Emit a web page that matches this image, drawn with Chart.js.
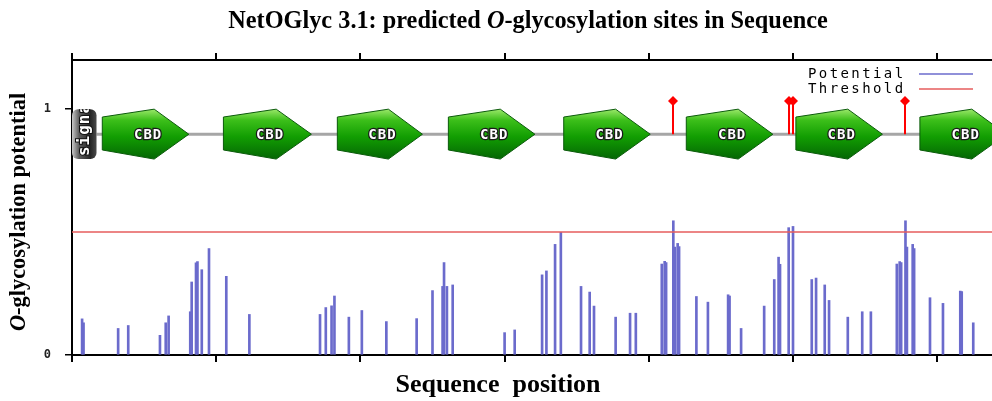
<!DOCTYPE html>
<html>
<head>
<meta charset="utf-8">
<script src="https://cdn.jsdelivr.net/npm/chart.js@4/dist/chart.umd.min.js"></script>
<style>
  body { margin: 0; background: #fff; }
  #wrap { width: 992px; height: 401px; position: relative; }
</style>
</head>
<body>
<div id="wrap"><canvas id="chart"></canvas></div>
<script>
// sequence positions (residues) and scale ticks
const seqLength = 638;
const xTicks = [0, 100, 200, 300, 400, 500, 600];
const yTicks = [0, 1];
const threshold = 0.5;

// predicted O-glycosylation potential per site
const sitePos = [7, 8, 32, 39, 61, 65, 67, 82, 83, 86, 87, 90, 95, 107, 123,
  172, 176, 180, 182, 192, 201, 218, 239, 250, 257, 258, 260, 264, 300, 307,
  326, 329, 335, 339, 353, 359, 362, 377, 387, 391, 409, 411, 412, 417, 418, 420, 421, 433, 441, 455, 456, 464,
  480, 487, 490, 491, 497, 500, 513, 516, 522, 525, 538, 548, 554, 572, 574, 575, 578, 579, 583, 584, 595, 604, 616, 617, 625];
const siteVal = [0.147, 0.131, 0.108, 0.120, 0.080, 0.131, 0.159, 0.176, 0.297, 0.375, 0.380, 0.347, 0.433, 0.320, 0.165,
  0.165, 0.193, 0.200, 0.240, 0.154, 0.181, 0.136, 0.148, 0.262, 0.279, 0.376, 0.279, 0.285, 0.091, 0.102,
  0.326, 0.342, 0.450, 0.499, 0.279, 0.256, 0.199, 0.154, 0.170, 0.170, 0.370, 0.381, 0.376, 0.546, 0.439, 0.454, 0.441, 0.238, 0.215, 0.245, 0.240, 0.108,
  0.199, 0.307, 0.398, 0.369, 0.518, 0.523, 0.307, 0.313, 0.285, 0.222, 0.154, 0.176, 0.176, 0.370, 0.380, 0.376, 0.546, 0.439, 0.450, 0.433, 0.233, 0.210, 0.260, 0.258, 0.131];

// domain track
const signalStart = 0, signalEnd = 17;
const cbdStart = [21, 105, 184, 261, 341, 426, 502, 588];
const cbdEnd = [81, 166, 243, 321, 401, 486, 562, 648];
const predicted = [417, 497, 500, 578];

const trackPlugin = {
  id: 'track',
  afterDatasetsDraw(chart) {
    const { ctx, chartArea: a, scales: { x, y } } = chart;
    ctx.save();
    ctx.beginPath();
    ctx.rect(a.left, 0, a.right - a.left, chart.height);
    ctx.clip();

    const yLine = y.getPixelForValue(0.898);
    ctx.strokeStyle = '#a6a6a6';
    ctx.lineWidth = 3;
    ctx.beginPath();
    ctx.moveTo(x.getPixelForValue(signalEnd), yLine);
    ctx.lineTo(a.right, yLine);
    ctx.stroke();

    // predicted sites (lollipops)
    predicted.forEach(p => {
      const px = Math.round(x.getPixelForValue(p));
      const top = y.getPixelForValue(1.033);
      ctx.strokeStyle = '#ff0000';
      ctx.lineWidth = 2;
      ctx.beginPath();
      ctx.moveTo(px, yLine);
      ctx.lineTo(px, top);
      ctx.stroke();
      ctx.fillStyle = '#ff0000';
      ctx.beginPath();
      ctx.moveTo(px, top - 5);
      ctx.lineTo(px + 5, top);
      ctx.lineTo(px, top + 5);
      ctx.lineTo(px - 5, top);
      ctx.closePath();
      ctx.fill();
    });

    // CBD domains
    const yTop = y.getPixelForValue(1.0), yBot = y.getPixelForValue(0.797);
    const yL1 = y.getPixelForValue(0.968), yL2 = y.getPixelForValue(0.834);
    cbdStart.forEach((s, i) => {
      const x0 = x.getPixelForValue(s), x1 = x.getPixelForValue(cbdEnd[i]);
      const xm = x0 + (x1 - x0) * 0.6;
      const g = ctx.createLinearGradient(0, yTop, 0, yBot);
      g.addColorStop(0, '#9be86a');
      g.addColorStop(0.22, '#3cbf1a');
      g.addColorStop(0.55, '#129e02');
      g.addColorStop(1, '#046604');
      ctx.fillStyle = g;
      ctx.beginPath();
      ctx.moveTo(x0, yL1);
      ctx.lineTo(xm, yTop);
      ctx.lineTo(x1, yLine);
      ctx.lineTo(xm, yBot);
      ctx.lineTo(x0, yL2);
      ctx.closePath();
      ctx.fill();
      ctx.strokeStyle = '#0a5a0a';
      ctx.lineWidth = 1;
      ctx.stroke();

      ctx.font = 'bold 14px "DejaVu Sans Mono"';
      ctx.letterSpacing = '1px';
      ctx.textAlign = 'center';
      ctx.textBaseline = 'middle';
      const tx = x0 + (x1 - x0) * 0.53;
      ctx.lineWidth = 2.5;
      ctx.strokeStyle = '#1a1a1a';
      ctx.strokeText('CBD', tx, yLine + 1);
      ctx.fillStyle = '#ffffff';
      ctx.fillText('CBD', tx, yLine + 1);
      ctx.letterSpacing = '0px';
    });

    // signal peptide box
    const sx0 = x.getPixelForValue(signalStart), sx1 = x.getPixelForValue(signalEnd);
    const sy0 = y.getPixelForValue(1.0), sy1 = y.getPixelForValue(0.797);
    const sg = ctx.createLinearGradient(sx0, 0, sx1, 0);
    sg.addColorStop(0, '#c8c8c8');
    sg.addColorStop(0.3, '#5a5a5a');
    sg.addColorStop(0.75, '#262626');
    sg.addColorStop(1, '#4a4a4a');
    ctx.fillStyle = sg;
    ctx.beginPath();
    ctx.roundRect(sx0, sy0, sx1 - sx0, sy1 - sy0, 6);
    ctx.fill();
    ctx.save();
    ctx.clip();
    ctx.translate((sx0 + sx1) / 2 + 1, sy1 - 3);
    ctx.rotate(-Math.PI / 2);
    ctx.font = 'bold 16px "DejaVu Sans Mono"';
    ctx.letterSpacing = '1px';
    ctx.textAlign = 'left';
    ctx.textBaseline = 'middle';
    ctx.lineWidth = 2;
    ctx.strokeStyle = '#111';
    ctx.strokeText('signal', 0, 0);
    ctx.fillStyle = '#fff';
    ctx.fillText('signal', 0, 0);
    ctx.restore();

    ctx.restore();
  },
  afterDraw(chart) {
    const { ctx } = chart;
    ctx.save();
    // legend
    ctx.font = '14px "DejaVu Sans Mono"';
    ctx.letterSpacing = '2.4px';
    ctx.fillStyle = '#000';
    ctx.textAlign = 'left';
    ctx.textBaseline = 'middle';
    ctx.fillText('Potential', 808, 74);
    ctx.fillText('Threshold', 808, 89);
    ctx.letterSpacing = '0px';
    ctx.lineWidth = 1.5;
    ctx.strokeStyle = '#6b6bcc';
    ctx.beginPath(); ctx.moveTo(919, 74); ctx.lineTo(973, 74); ctx.stroke();
    ctx.strokeStyle = '#e65c5c';
    ctx.beginPath(); ctx.moveTo(919, 89); ctx.lineTo(973, 89); ctx.stroke();

    // titles, with italic O
    const drawMixed = (parts, cx, cy, size) => {
      const fonts = parts.map(p => (p[1] ? 'italic ' : '') + 'bold ' + size + 'px "Liberation Serif"');
      let total = 0;
      parts.forEach((p, i) => { ctx.font = fonts[i]; total += ctx.measureText(p[0]).width; });
      let cur = cx - total / 2;
      ctx.textAlign = 'left';
      ctx.textBaseline = 'middle';
      ctx.fillStyle = '#000';
      parts.forEach((p, i) => {
        ctx.font = fonts[i];
        ctx.fillText(p[0], cur, cy);
        cur += ctx.measureText(p[0]).width;
      });
    };
    drawMixed([['NetOGlyc 3.1: predicted ', false], ['O', true], ['-glycosylation sites in Sequence', false]], 528, 22, 24.3);

    ctx.save();
    ctx.translate(19, 212);
    ctx.rotate(-Math.PI / 2);
    drawMixed([['O', true], ['-glycosylation potential', false]], 0, 0, 22.4);
    ctx.restore();

    drawMixed([['Sequence  position', false]], 498, 385, 26);
    ctx.restore();
  }
};

new Chart(document.getElementById('chart'), {
  type: 'bar',
  data: {
    datasets: [
      {
        type: 'line',
        label: 'Threshold',
        data: [{ x: 0, y: threshold }, { x: seqLength, y: threshold }],
        borderColor: '#e65c5c',
        borderWidth: 1.5,
        pointRadius: 0
      },
      {
        type: 'bar',
        label: 'Potential',
        data: sitePos.map((p, i) => ({ x: p, y: siteVal[i] })),
        backgroundColor: '#6b6bcc',
        barThickness: 2
      }
    ]
  },
  options: {
    responsive: true,
    maintainAspectRatio: false,
    animation: false,
    layout: { padding: 0 },
    plugins: { legend: { display: false }, tooltip: { enabled: false } },
    scales: {
      x: {
        type: 'linear', min: 0, max: seqLength, offset: false, position: 'bottom',
        afterBuildTicks: s => { s.ticks = xTicks.map(v => ({ value: v })); },
        afterFit: s => { s.height = 46; },
        ticks: { display: false },
        grid: { offset: false, drawOnChartArea: false, tickLength: 7, color: '#000', lineWidth: 2 },
        border: { color: '#000', width: 2 }
      },
      x2: {
        type: 'linear', min: 0, max: seqLength, offset: false, position: 'top',
        afterBuildTicks: s => { s.ticks = xTicks.map(v => ({ value: v })); },
        afterFit: s => { s.height = 60; },
        ticks: { display: false },
        grid: { offset: false, drawOnChartArea: false, tickLength: 7, color: '#000', lineWidth: 2 },
        border: { color: '#000', width: 2 }
      },
      y: {
        min: 0, max: 1.2,
        afterBuildTicks: s => { s.ticks = yTicks.map(v => ({ value: v })); },
        afterFit: s => { s.width = 72; },
        ticks: { font: { family: 'DejaVu Sans Mono', size: 12, weight: 'bold' }, color: '#222', padding: 14 },
        grid: { drawOnChartArea: false, tickLength: 7, color: '#000', lineWidth: 1.5 },
        border: { color: '#000', width: 2 }
      }
    }
  },
  plugins: [trackPlugin]
});
</script>
</body>
</html>
